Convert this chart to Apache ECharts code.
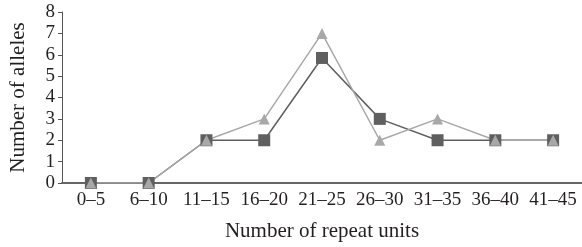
<!DOCTYPE html>
<html>
<head>
<meta charset="utf-8">
<script src="https://cdn.jsdelivr.net/npm/echarts@6/dist/echarts.min.js"></script>
<style>
  html, body { margin: 0; padding: 0; background: #fff; }
  #chart { width: 582px; height: 247px; }
</style>
</head>
<body>
<div id="chart"></div>
<script>
// repeat-unit bins and allele counts
const categories = ['0–5', '6–10', '11–15', '16–20', '21–25', '26–30', '31–35', '36–40', '41–45'];
const squareValues = [0, 0, 2, 2, 5.85, 3, 2, 2, 2];
const triangleValues = [0, 0, 2, 3, 7, 2, 3, 2, 2];
const yTicks = { min: 0, max: 8, interval: 1 };

const fontFamily = '"Liberation Serif", "Times New Roman", serif';
const textColor = '#231f20';

const chart = echarts.init(document.getElementById('chart'), null, { renderer: 'canvas' });

chart.setOption({
    animation: false,
    grid: { left: 58, right: 0, top: 12, bottom: 63, containLabel: false },
    xAxis: {
        type: 'category',
        data: categories,
        boundaryGap: true,
        name: 'Number of repeat units',
        nameLocation: 'middle',
        nameGap: 38,
        nameTextStyle: { fontFamily, fontSize: 21, color: textColor },
        axisLine: { lineStyle: { color: '#666', width: 2 } },
        axisTick: { show: false },
        axisLabel: { fontFamily, fontSize: 19, color: textColor, margin: 8, interval: 0 },
        splitLine: { show: false }
    },
    yAxis: {
        type: 'value',
        min: yTicks.min,
        max: yTicks.max,
        interval: yTicks.interval,
        name: 'Number of alleles',
        nameLocation: 'middle',
        nameGap: 33,
        nameTextStyle: { fontFamily, fontSize: 21, color: textColor },
        axisLine: { show: true, lineStyle: { color: '#555', width: 1 } },
        axisTick: { show: true, length: 4, lineStyle: { color: '#555' } },
        axisLabel: { fontFamily, fontSize: 19, color: textColor, margin: 7 },
        splitLine: { show: false }
    },
    series: [
        {
            name: 'square',
            type: 'line',
            data: squareValues,
            symbol: 'rect',
            symbolSize: 12,
            lineStyle: { color: '#5f5f5f', width: 1.5 },
            itemStyle: { color: '#5f5f5f' }
        },
        {
            name: 'triangle',
            type: 'line',
            data: triangleValues,
            symbol: 'triangle',
            symbolSize: 11,
            lineStyle: { color: '#a8a8a8', width: 1.5 },
            itemStyle: { color: '#a8a8a8' }
        }
    ]
});
</script>
</body>
</html>
